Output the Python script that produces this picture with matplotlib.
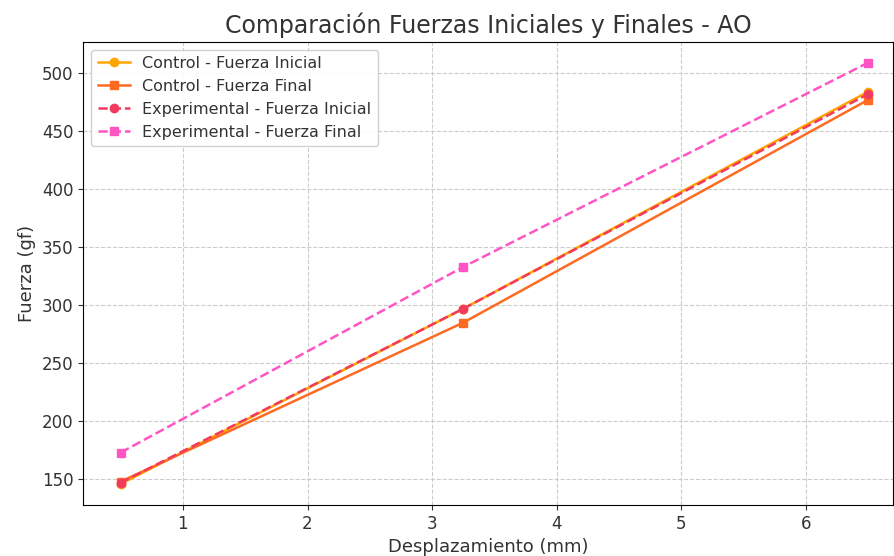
import matplotlib
matplotlib.use("Agg")
import matplotlib.pyplot as plt

desplazamiento = [0.5, 3.25, 6.5]
control_inicial = [146, 297, 484]
control_final = [148, 285, 477]
exp_inicial = [147, 297, 482]
exp_final = [173, 333, 509]

fig = plt.figure(figsize=(8.95, 5.56), dpi=100)
ax = fig.add_axes([0.093, 0.092, 0.905, 0.833])

ax.plot(desplazamiento, control_inicial, marker='o', linestyle='-', color='#FFA500', label='Control - Fuerza Inicial', lw=1.8, ms=6)
ax.plot(desplazamiento, control_final, marker='s', linestyle='-', color='#FF6A22', label='Control - Fuerza Final', lw=1.8, ms=6)
ax.plot(desplazamiento, exp_inicial, marker='o', linestyle='--', color='#F23A5E', label='Experimental - Fuerza Inicial', lw=1.8, ms=6)
ax.plot(desplazamiento, exp_final, marker='s', linestyle='--', color='#FF55C4', label='Experimental - Fuerza Final', lw=1.8, ms=6)

ax.set_title('Comparación Fuerzas Iniciales y Finales - AO', fontsize=17, color='#333333')
ax.set_xlabel('Desplazamiento (mm)', fontsize=13, color='#333333')
ax.set_ylabel('Fuerza (gf)', fontsize=13, color='#333333')
ax.set_xlim(0.2, 6.7)
ax.set_ylim(128, 527)
ax.set_yticks([150, 200, 250, 300, 350, 400, 450, 500])
ax.set_xticks([1, 2, 3, 4, 5, 6])
ax.tick_params(labelsize=12, colors='#333333')
ax.grid(True, linestyle='--', color='#cccccc', lw=0.8)
leg = ax.legend(loc='upper left', fontsize=11.5, framealpha=0.9)
for t in leg.get_texts():
    t.set_color('#333333')
fig.savefig('out.png', dpi=100)
